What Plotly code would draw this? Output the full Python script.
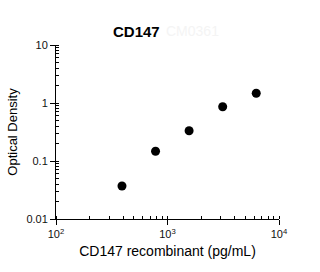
import plotly.graph_objects as go

conc = [390.6, 781.25, 1562.5, 3125, 6250]
od = [0.037, 0.147, 0.333, 0.863, 1.47]
title = "CD147"
watermark = "CM0361"
x_title = "CD147 recombinant (pg/mL)"
y_title = "Optical Density"
x_tickvals = [100, 1000, 10000]
x_ticktext = ["10<sup>2</sup>", "10<sup>3</sup>", "10<sup>4</sup>"]
y_tickvals = [0.01, 0.1, 1, 10]
y_ticktext = ["0.01", "0.1", "1", "10"]

fig = go.Figure()
fig.add_trace(go.Scatter(x=conc, y=od, mode="markers",
                         marker=dict(color="black", size=9),
                         showlegend=False, cliponaxis=False))

font = "Arial, Liberation Sans, sans-serif"
axis_common = dict(showgrid=False, zeroline=False, showline=True, linecolor="black",
                   linewidth=1, ticks="outside", ticklen=5, tickcolor="black", tickwidth=1,
                   tickfont=dict(family=font, size=11, color="#111"), mirror=False)

fig.update_xaxes(type="log", range=[2, 4], tickvals=x_tickvals, ticktext=x_ticktext,
                 title=dict(text=x_title, font=dict(family=font, size=14, color="black"), standoff=6),
                 minor=dict(ticks="inside", ticklen=3, tickcolor="black", tickwidth=1,
                            dtick="D1", showgrid=False),
                 **axis_common)
fig.update_yaxes(type="log", range=[-2, 1], tickvals=y_tickvals, ticktext=y_ticktext,
                 title=dict(text=y_title, font=dict(family=font, size=13, color="black"), standoff=5),
                 minor=dict(ticks="inside", ticklen=3, tickcolor="black", tickwidth=1,
                            dtick="D1", showgrid=False),
                 **axis_common)

L, R, T, B = 56, 41, 45, 53
pw, ph = 320 - L - R, 272 - T - B

def px2paper(px, py):
    return (px - L) / pw, (272 - B - py) / ph

tx, ty = px2paper(136, 31)
wx, wy = px2paper(192, 31)

fig.update_layout(
    width=320, height=272,
    margin=dict(l=L, r=R, t=T, b=B),
    paper_bgcolor="white", plot_bgcolor="white",
    annotations=[
        dict(text="<b>" + title + "</b>", x=tx, y=ty, xref="paper", yref="paper",
             showarrow=False, font=dict(family=font, size=15, color="black"),
             xanchor="center", yanchor="middle"),
        dict(text=watermark, x=wx, y=wy, xref="paper", yref="paper",
             showarrow=False, font=dict(family=font, size=14, color="#f4f4f4"),
             xanchor="center", yanchor="middle"),
    ],
)

fig.write_html("out.html")
